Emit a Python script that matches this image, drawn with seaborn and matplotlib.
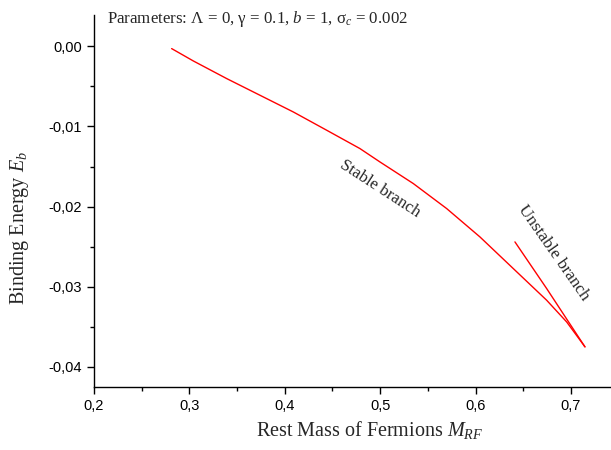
import matplotlib
matplotlib.use("Agg")
import matplotlib.pyplot as plt
import seaborn as sns
import pandas as pd
from matplotlib.ticker import FuncFormatter, MultipleLocator

# data
stable_x = [0.2814, 0.3041, 0.3391, 0.3740, 0.4089, 0.4439, 0.4788, 0.4998, 0.5347,
            0.5697, 0.6046, 0.6395, 0.6745, 0.6955, 0.7147]
stable_y = [-0.00029, -0.00183, -0.00403, -0.00611, -0.00819, -0.01047, -0.01276, -0.01443,
            -0.01712, -0.02024, -0.02378, -0.02772, -0.03167, -0.03438, -0.03749]
unstable_x = [0.6413, 0.6745, 0.7147]
unstable_y = [-0.02440, -0.03021, -0.03749]

df = pd.concat([
    pd.DataFrame({"M": stable_x, "E": stable_y, "branch": "stable"}),
    pd.DataFrame({"M": unstable_x, "E": unstable_y, "branch": "unstable"}),
])

sns.set_theme(style="ticks")
plt.rcParams["font.family"] = ["Liberation Serif", "DejaVu Serif"]
plt.rcParams["mathtext.fontset"] = "custom"
plt.rcParams["mathtext.rm"] = "Liberation Serif"
plt.rcParams["mathtext.it"] = "Liberation Serif:italic"

fig = plt.figure(figsize=(6.11, 4.5), dpi=100)
ax = fig.add_axes([94/611, 1 - 386.7/450, 1 - 94/611, (386.7 - 15)/450])

sns.lineplot(data=df, x="M", y="E", hue="branch", palette=["red", "red"],
             sort=False, estimator=None, linewidth=1.0, legend=False, ax=ax)

ax.set_xlim(0.2, 0.742)
ax.set_ylim(-0.04246, 0.0039)
ax.xaxis.set_major_locator(MultipleLocator(0.1))
ax.xaxis.set_minor_locator(MultipleLocator(0.05))
ax.yaxis.set_major_locator(MultipleLocator(0.01))
ax.yaxis.set_minor_locator(MultipleLocator(0.005))
ax.xaxis.set_major_formatter(FuncFormatter(lambda v, p: f"{v:.1f}".replace(".", ",")))
ax.yaxis.set_major_formatter(FuncFormatter(lambda v, p: ("0,00" if abs(v) < 1e-9 else f"{v:.2f}".replace(".", ","))))

for s in ["top", "right"]:
    ax.spines[s].set_visible(False)
for s in ["left", "bottom"]:
    ax.spines[s].set_linewidth(1.0)
    ax.spines[s].set_color("black")

ax.tick_params(axis="both", which="major", direction="out", length=5, width=1, colors="black",
               labelsize=10.5)
ax.tick_params(axis="both", which="minor", direction="out", length=3, width=1, colors="black")
for lab in ax.get_xticklabels() + ax.get_yticklabels():
    lab.set_fontfamily("Liberation Sans")

ax.set_xlabel("Rest Mass of Fermions $\\mathit{M}_{RF}$", fontsize=14.5)
ax.set_ylabel("Binding Energy $\\mathit{E}_{b}$", fontsize=14.5)
ax.xaxis.label.set_va("baseline")
ax.xaxis.set_label_coords((370 - 94) / 517, -(436 - 386.7) / 371.7)
ax.yaxis.set_label_coords(-(94 - 31) / 517, (386.7 - 228) / 371.7)

fig.text(107/611, 1 - 23/450, "Parameters: Λ = 0, γ = 0.1, $b$ = 1, σ$_{c}$ = 0.002",
         fontsize=12.2, ha="left", va="baseline")

ax.text(380, 450 - 189, "Stable branch", transform=None, fontsize=12.2, rotation=-33,
        rotation_mode="anchor", ha="center", va="center")
ax.text(554, 450 - 253, "Unstable branch", transform=None, fontsize=12.4, rotation=-55,
        rotation_mode="anchor", ha="center", va="center")

fig.savefig("out.png", dpi=100, facecolor="white")
